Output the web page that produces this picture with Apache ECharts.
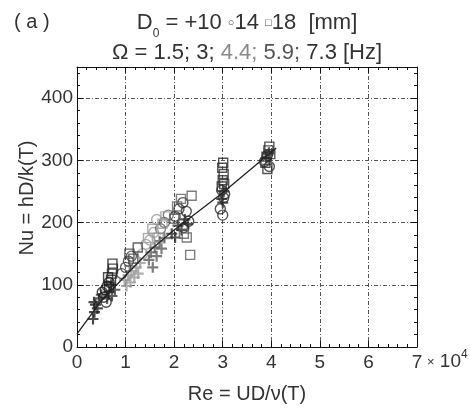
<!DOCTYPE html>
<html><head><meta charset="utf-8">
<script src="https://cdn.jsdelivr.net/npm/echarts@6/dist/echarts.min.js"></script>
<style>html,body{margin:0;padding:0;background:#fff}#c{width:470px;height:409px}</style>
</head><body><div id="c"></div>
<script>
// Frequencies (Hz) and diameters (mm)
const freqLabels = ['1.5', '3', '4.4', '5.9', '7.3'];
const diameters = ['10', '14', '18'];
const xTickLabels = ['0', '1', '2', '3', '4', '5', '6', '7'];
const yTickLabels = ['0', '100', '200', '300', '400'];

// [Re (x 10^4), Nu, frequency index]
const d10 = [
  [0.33,45,0],[0.36,56,0],[0.38,68,0],[0.35,72,0],[0.42,62,0],[0.45,78,1],[0.50,84,1],[0.62,78,1],
  [0.66,88,1],[0.72,82,1],[0.78,92,1],[0.70,100,1],
  [0.98,108,2],[1.02,98,2],[1.05,115,2],[1.10,104,2],[1.12,122,2],[1.18,112,2],[1.22,128,2],
  [1.26,118,2],[1.30,135,2],[1.08,130,2],
  [1.48,140,3],[1.52,152,3],[1.56,128,3],[1.60,160,3],[1.64,146,3],[1.70,170,3],[1.74,158,3],[1.80,175,3],
  [1.95,182,4],[2.02,176,4],[2.08,195,4],[2.15,188,4],[2.22,205,4],[2.28,198,4],
  [2.98,238,4],[3.02,250,4],[3.00,232,4],
  [3.90,304,4],[3.95,312,4]
];
const d14 = [
  [0.55,80,0],[0.58,92,0],[0.62,98,0],[0.66,104,0],[0.52,88,0],[0.60,72,0],
  [0.92,118,1],[1.00,128,1],[1.06,138,1],[1.12,146,1],
  [1.35,150,2],[1.42,165,2],[1.50,172,2],[1.58,184,2],[1.64,205,2],
  [1.72,190,3],[1.80,200,3],[1.88,212,3],
  [2.02,210,4],[2.10,222,4],[2.18,232,4],[2.25,218,4],[2.30,202,4],[2.20,192,4],
  [2.95,222,4],[3.00,212,4],[3.02,240,4],[2.98,252,4],[3.04,246,4],
  [3.86,298,4],[3.92,308,4],[3.96,290,4]
];
const d18 = [
  [0.66,96,0],[0.70,108,0],[0.72,118,0],[0.74,126,0],[0.73,134,0],[0.64,112,0],
  [1.08,150,1],[1.16,142,1],[1.25,160,1],
  [1.46,175,2],[1.55,190,2],[1.68,176,2],[1.76,198,2],[1.82,210,2],
  [2.00,206,3],[2.06,226,3],[2.14,238,3],[2.20,182,3],[2.26,176,3],[2.33,148,3],[2.36,243,3],
  [2.98,258,4],[3.00,268,4],[3.02,278,4],[2.99,288,4],[3.01,296,4],[3.03,262,4],
  [3.88,296,4],[3.92,286,4],[3.94,316,4],[3.96,322,4],[3.90,306,4],[3.98,310,4]
];
// fitted curve
const fitRe = [0, 0.5, 1, 1.5, 2, 3, 4.1];
const fitNu = [21, 74, 115, 155, 188, 248, 320];

const FONT = "'Liberation Sans', Arial, sans-serif";
const shades = ['#1e1e1e', '#3c3c3c', '#9a9a9a', '#5e5e5e', '#2a2a2a'];
const plusPath = 'path://M4,0H6V4H10V6H6V10H4V6H0V4H4Z';
const groups = [
  { d: diameters[0], data: d10, symbol: plusPath, size: 11, filled: true },
  { d: diameters[1], data: d14, symbol: 'circle', size: 10, filled: false },
  { d: diameters[2], data: d18, symbol: 'rect', size: 9, filled: false }
];
const series = [];
groups.forEach(g => {
  freqLabels.forEach((f, k) => {
    const pts = g.data.filter(p => p[2] === k).map(p => [p[0], p[1]]);
    if (!pts.length) return;
    series.push({
      type: 'scatter', name: g.d + ' mm, ' + f + ' Hz', data: pts,
      symbol: g.symbol, symbolSize: g.size, z: 3,
      itemStyle: g.filled ? { color: shades[k] }
        : { color: 'rgba(0,0,0,0)', borderColor: shades[k], borderWidth: 1.4 }
    });
  });
});
series.push({
  type: 'line', data: fitRe.map((r, i) => [r, fitNu[i]]), symbol: 'none', z: 5,
  lineStyle: { color: '#222', width: 1.3 }
});

const splitStyle = { color: '#555', width: 1, type: [4, 2, 1, 2] };
const axisLine = { show: true, onZero: false, lineStyle: { color: '#111', width: 1 } };
const tick = { show: true, inside: true, length: 6, lineStyle: { color: '#111' } };
const minor = { show: true, splitNumber: 5, length: 3, lineStyle: { color: '#111' } };

const chart = echarts.init(document.getElementById('c'), null, { renderer: 'canvas' });
chart.setOption({
  animation: false,
  backgroundColor: '#fff',
  textStyle: { fontFamily: FONT },
  grid: { left: 77, right: 53, top: 67, bottom: 59, containLabel: false },
  xAxis: [{
    type: 'value', min: 0, max: 7, interval: 1, position: 'bottom',
    axisLine, axisTick: tick, minorTick: minor,
    splitLine: { show: true, lineStyle: splitStyle },
    axisLabel: { fontSize: 19, color: '#333', margin: 6, fontFamily: FONT,
      formatter: v => xTickLabels[Math.round(v)] || '' },
    name: 'Re = UD/ν(T)', nameLocation: 'middle', nameGap: 37,
    nameTextStyle: { fontSize: 20, color: '#333', fontFamily: FONT }
  }, {
    type: 'value', min: 0, max: 7, interval: 1, position: 'top',
    axisLine, axisTick: tick, minorTick: minor,
    splitLine: { show: false }, axisLabel: { show: false }
  }],
  yAxis: [{
    type: 'value', min: 0, max: 450, interval: 100, position: 'left',
    axisLine, axisTick: tick, minorTick: minor,
    splitLine: { show: true, lineStyle: splitStyle },
    axisLabel: { fontSize: 19, color: '#333', margin: 4, fontFamily: FONT, showMaxLabel: false,
      formatter: v => (v % 100 === 0 ? yTickLabels[v / 100] || '' : '') }
  }, {
    type: 'value', min: 0, max: 450, interval: 100, position: 'right',
    axisLine, axisTick: tick, minorTick: minor,
    splitLine: { show: false }, axisLabel: { show: false }
  }],
  series,
  graphic: [
    { type: 'text', x: 14, y: 22, style: { text: '( a )', font: '20px ' + FONT, fill: '#333', textVerticalAlign: 'middle' } },
    { type: 'text', x: 247, y: 23, style: {
      text: '{t|D}{s|0}{t| = +10 }{m|○}{t|14 }{m|□}{t|18  [mm]}',
      textAlign: 'center', textVerticalAlign: 'middle',
      rich: {
        t: { fontSize: 22, fontFamily: FONT, fill: '#333', color: '#333', lineHeight: 34 },
        s: { fontSize: 12, fontFamily: FONT, fill: '#333', color: '#333', lineHeight: 12, verticalAlign: 'bottom' },
        m: { fontSize: 11, fontFamily: FONT, fill: '#444', color: '#444', lineHeight: 34 }
      } } },
    { type: 'text', x: 247, y: 53, style: {
      text: '{a|Ω = 1.5; 3; }{b|4.4; }{c|5.9; }{d|7.3 [Hz]}',
      textAlign: 'center', textVerticalAlign: 'middle',
      rich: {
        a: { fontSize: 22, fontFamily: FONT, fill: '#333', color: '#333' },
        b: { fontSize: 22, fontFamily: FONT, fill: '#8a8a8a', color: '#8a8a8a' },
        c: { fontSize: 22, fontFamily: FONT, fill: '#555', color: '#555' },
        d: { fontSize: 22, fontFamily: FONT, fill: '#333', color: '#333' }
      } } },
    { type: 'text', x: 427, y: 362, style: {
      text: '{x|×}{n| 10}{e|4}', textVerticalAlign: 'middle',
      rich: {
        x: { fontSize: 13, fontFamily: FONT, fill: '#333', color: '#333', lineHeight: 26 },
        n: { fontSize: 19, fontFamily: FONT, fill: '#333', color: '#333', lineHeight: 26 },
        e: { fontSize: 12, fontFamily: FONT, fill: '#333', color: '#333', lineHeight: 14, verticalAlign: 'top' }
      } } },
    { type: 'text', x: 27, y: 198, rotation: Math.PI / 2, style: {
      text: 'Nu = hD/k(T)', font: '20px ' + FONT, fill: '#333',
      textAlign: 'center', textVerticalAlign: 'middle' } }
  ]
});
</script></body></html>
